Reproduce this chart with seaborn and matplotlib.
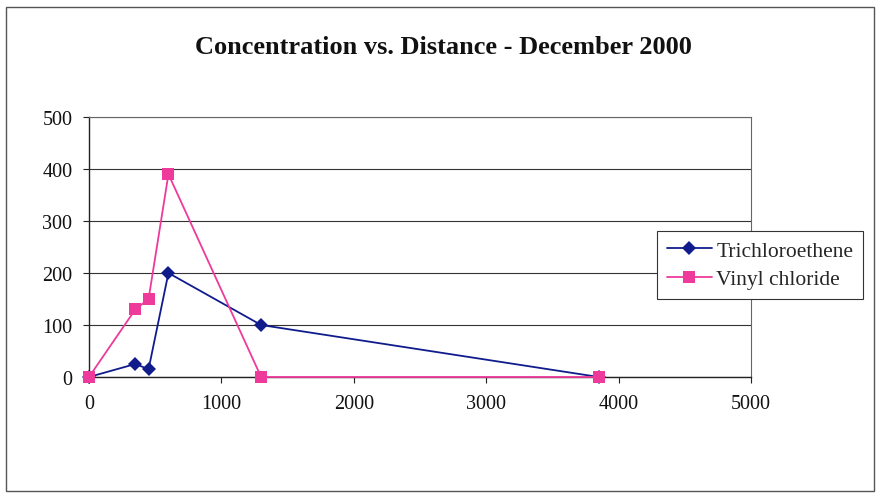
import matplotlib
matplotlib.use("Agg")
import matplotlib.pyplot as plt
import seaborn as sns
import pandas as pd
from matplotlib.patches import Rectangle

distance = [0, 350, 450, 600, 1300, 3850]
tce = [0, 25, 15, 200, 100, 0]
vinyl = [0, 130, 150, 390, 0, 0]
series_names = ["Trichloroethene", "Vinyl chloride"]
x_ticks = [0, 1000, 2000, 3000, 4000, 5000]
y_ticks = [0, 100, 200, 300, 400, 500]
title = "Concentration vs. Distance - December 2000"

sns.set_style("white")
plt.rcParams['font.family'] = ['Liberation Serif', 'DejaVu Serif']

df = pd.concat([
    pd.DataFrame({"Distance": distance, "Conc": tce, "Series": series_names[0]}),
    pd.DataFrame({"Distance": distance, "Conc": vinyl, "Series": series_names[1]}),
])

fig = plt.figure(figsize=(8.79, 5.02), dpi=100)
fig.patch.set_facecolor("white")
fig.patches.append(Rectangle((6/879, 1-492/502), 868/879, 484/502, transform=fig.transFigure,
                             fill=False, edgecolor="#555555", linewidth=1.0))
ax = fig.add_axes([89/879, 1-378/502, (751-89)/879, (378-118)/502])

palette = {series_names[0]: "#101c8c", series_names[1]: "#ee3a9a"}
sns.lineplot(data=df, x="Distance", y="Conc", hue="Series", style="Series",
             markers={series_names[0]: "D", series_names[1]: "s"}, dashes=False,
             palette=palette, linewidth=1.3, markersize=8.5, markeredgewidth=0,
             sort=False, ax=ax)
for line in ax.lines:
    line.set_clip_on(False)
    if line.get_marker() == "D":
        line.set_markersize(7)
        line.set_zorder(3)
    else:
        line.set_zorder(4)

ax.set_xlim(0, 5000)
ax.set_ylim(0, 500)
ax.set_xticks(x_ticks)
ax.set_yticks(y_ticks)
ax.set_xlabel("")
ax.set_ylabel("")
ax.yaxis.grid(True, color="#333333", linewidth=0.8)
ax.xaxis.grid(False)
ax.set_axisbelow(True)
for s in ["left", "bottom"]:
    ax.spines[s].set_color("#222222")
    ax.spines[s].set_linewidth(1.0)
for s in ["top", "right"]:
    ax.spines[s].set_color("#666666")
    ax.spines[s].set_linewidth(0.8)
ax.tick_params(axis="both", which="both", direction="out", length=4, width=0.8,
               color="#222222", labelsize=14.5, pad=8, bottom=True, left=True)
for lab in ax.get_xticklabels() + ax.get_yticklabels():
    lab.set_color("#111111")

fig.text(443/879, 1-47/502, title, ha="center", va="center", fontsize=19,
         fontweight="bold", color="#111111")

leg = ax.legend(loc="center left", bbox_to_anchor=(657/879, 1-266/502),
                bbox_transform=fig.transFigure, fontsize=15.5, frameon=True,
                fancybox=False, edgecolor="#333333", framealpha=1, borderaxespad=0,
                handlelength=2.1, borderpad=0.45, labelspacing=0.4, handletextpad=0.2)
leg.get_frame().set_linewidth(0.8)

fig.savefig("out.png", dpi=100)
